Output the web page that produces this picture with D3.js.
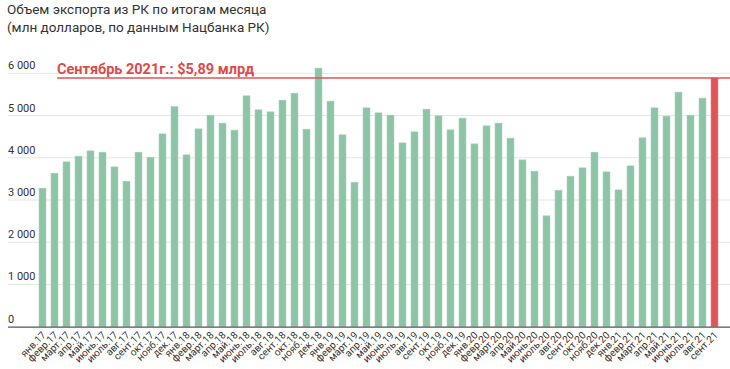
<!DOCTYPE html>
<html><head><meta charset="utf-8">
<script src="https://cdn.jsdelivr.net/npm/d3@7"></script>
<style>
body{margin:0;background:#fff;}
svg{display:block;font-family:Roboto,"Noto Sans",sans-serif;}
</style></head>
<body><svg id="c" width="730" height="369"></svg>
<script>
const months = ["янв.17","февр.17","март.17","апр.17","май.17","июнь.17","июль.17","авг.17","сент.17","окт.17","нояб.17","дек.17",
"янв.18","февр.18","март.18","апр.18","май.18","июнь.18","июль.18","авг.18","сент.18","окт.18","нояб.18","дек.18",
"янв.19","февр.19","март.19","апр.19","май.19","июнь.19","июль.19","авг.19","сент.19","окт.19","нояб.19","дек.19",
"янв.20","февр.20","март.20","апр.20","май.20","июнь.20","июль.20","авг.20","сент.20","окт.20","нояб.20","дек.20",
"янв.21","февр.21","март.21","апр.21","май.21","июнь.21","июль.21","авг.21","сент.21"];
const exports = [3280,3635,3903,4038,4164,4132,3784,3445,4132,4014,4566,5213,
4069,4685,5009,4820,4654,5467,5135,5088,5364,5530,4677,6123,
5341,4543,3422,5182,5064,5009,4353,4614,5151,4993,4661,4938,
4329,4756,4820,4464,3950,3682,2625,3232,3564,3761,4132,3666,
3240,3808,4472,5182,4985,5554,5009,5412,5890];
const yTicks = [0,1000,2000,3000,4000,5000,6000];
const highlightValue = 5890;
const titleLines = ["Объем экспорта из РК по итогам месяца","(млн долларов, по данным Нацбанка РК)"];
const annotation = "Сентябрь 2021г.: $5,89 млрд";

const svg = d3.select("#c");
const x = d3.scaleBand().domain(months).range([36.5,720.5]).paddingInner(0.42).paddingOuter(0.21);
const y = d3.scaleLinear().domain([0,6000]).range([326.7,73.3]);

svg.selectAll("text.title").data(titleLines).join("text")
  .attr("x",7).attr("y",(d,i)=>14+i*17.5)
  .attr("font-size",13.5).attr("fill","#333").text(d=>d);

const g = svg.append("g");
g.selectAll("line.grid").data(yTicks.filter(d=>d>0)).join("line")
  .attr("x1",8).attr("x2",730).attr("y1",d=>y(d)).attr("y2",d=>y(d))
  .attr("stroke","#e6e6e6").attr("stroke-width",1);
g.selectAll("text.tick").data(yTicks).join("text")
  .attr("x",8).attr("y",d=>y(d)-4)
  .attr("font-size",11).attr("fill","#333")
  .text(d=>d3.format(",")(d).replace(/,/g," "));

const last = months.length-1;
g.selectAll("rect.bar").data(exports).join("rect")
  .attr("x",(d,i)=>x(months[i])).attr("width",x.bandwidth())
  .attr("y",d=>y(d)).attr("height",d=>y(0)-y(d))
  .attr("fill",(d,i)=>i===last?"#de5555":"#8dc4a6")
  .attr("stroke",(d,i)=>i===last?"#e88080":"#a8d3bb").attr("stroke-width",0.6);

g.append("line").attr("x1",57).attr("x2",730)
  .attr("y1",y(highlightValue)).attr("y2",y(highlightValue))
  .attr("stroke","#e05555").attr("stroke-width",1.5);
g.append("text").attr("x",57).attr("y",74)
  .attr("font-size",14.5).attr("font-weight","bold").attr("fill","#de4a4a").text(annotation);

g.append("line").attr("x1",8).attr("x2",730).attr("y1",y(0)+0.5).attr("y2",y(0)+0.5)
  .attr("stroke","#555").attr("stroke-width",1.2);

g.selectAll("text.xl").data(months).join("text")
  .attr("transform",d=>`translate(${x(d)+x.bandwidth()/2+4},${y(0)+9}) rotate(-45)`)
  .attr("text-anchor","end").attr("font-size",10).attr("fill","#333").text(d=>d);
</script></body></html>
